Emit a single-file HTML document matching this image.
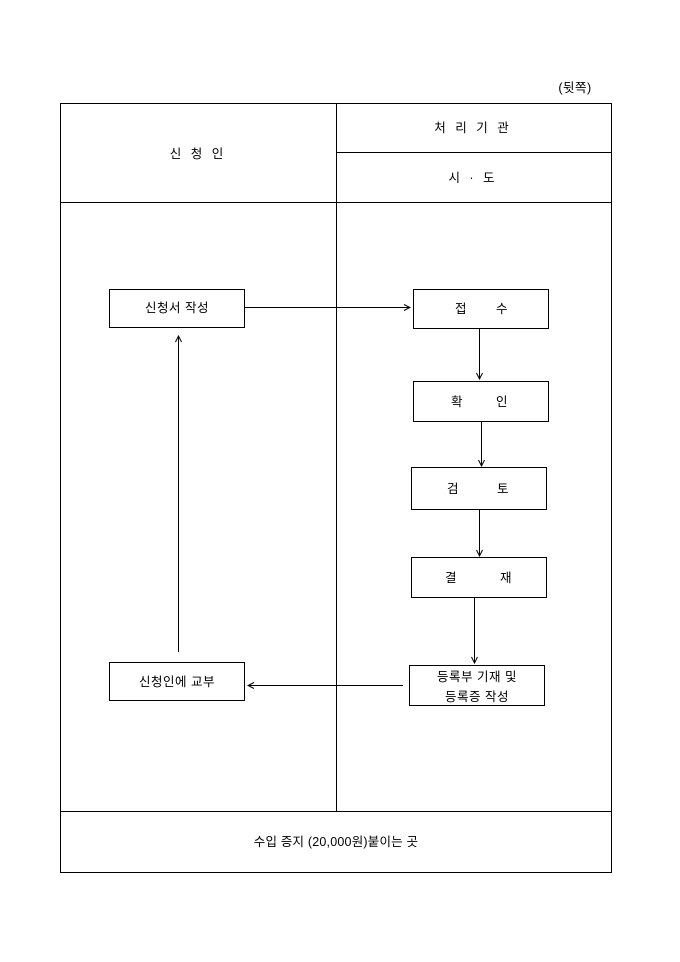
<!DOCTYPE html>
<html><head><meta charset="utf-8"><style>
html,body{margin:0;padding:0;background:#fff}
svg{display:block}
text{font-family:"Liberation Sans","Noto Sans CJK KR",sans-serif;font-size:12.5px;fill:#000;letter-spacing:0.5px}
.w{letter-spacing:3px}
</style></head><body>
<svg width="680" height="962" viewBox="0 0 680 962" xmlns="http://www.w3.org/2000/svg">
<defs><marker id="a" markerWidth="8" markerHeight="8" refX="7" refY="4" orient="auto" markerUnits="userSpaceOnUse"><path d="M1,1 L7,4 L1,7" fill="none" stroke="#000" stroke-width="1"/></marker></defs>
<g fill="none" stroke="#000" stroke-width="1">
<rect x="60.5" y="103.5" width="551" height="769"/>
<line x1="336.5" y1="103" x2="336.5" y2="811"/>
<line x1="336" y1="152.5" x2="611" y2="152.5"/>
<line x1="60" y1="202.5" x2="611" y2="202.5"/>
<line x1="60" y1="811.5" x2="611" y2="811.5"/>
<rect x="109.5" y="289.5" width="135" height="38"/>
<rect x="413.5" y="289.5" width="135" height="39"/>
<rect x="413.5" y="381.5" width="135" height="40"/>
<rect x="411.5" y="467.5" width="135" height="42"/>
<rect x="411.5" y="557.5" width="135" height="40"/>
<rect x="409.5" y="665.5" width="135" height="40"/>
<rect x="109.5" y="662.5" width="135" height="38"/>
<line x1="245" y1="307.5" x2="410" y2="307.5" marker-end="url(#a)"/>
<line x1="479.5" y1="329" x2="479.5" y2="379" marker-end="url(#a)"/>
<line x1="481.5" y1="422" x2="481.5" y2="466" marker-end="url(#a)"/>
<line x1="479.5" y1="510" x2="479.5" y2="556" marker-end="url(#a)"/>
<line x1="474.5" y1="598" x2="474.5" y2="663" marker-end="url(#a)"/>
<line x1="403" y1="685.5" x2="248" y2="685.5" marker-end="url(#a)"/>
<line x1="178.5" y1="652" x2="178.5" y2="336" marker-end="url(#a)"/>
</g>
<text x="575" y="92" text-anchor="middle">(뒷쪽)</text>
<text class="w" x="198" y="158" text-anchor="middle">신 청 인</text>
<text class="w" x="473" y="132" text-anchor="middle">처 리 기 관</text>
<text class="w" x="473" y="182" text-anchor="middle">시 · 도</text>
<text x="177" y="312" text-anchor="middle">신청서 작성</text>
<text x="461" y="313" text-anchor="middle">접</text><text x="502" y="313" text-anchor="middle">수</text>
<text x="457" y="406" text-anchor="middle">확</text><text x="502" y="406" text-anchor="middle">인</text>
<text x="453" y="493" text-anchor="middle">검</text><text x="503" y="493" text-anchor="middle">토</text>
<text x="451" y="582" text-anchor="middle">결</text><text x="506" y="582" text-anchor="middle">재</text>
<text x="477" y="681" text-anchor="middle">등록부 기재 및</text>
<text x="477" y="701" text-anchor="middle">등록증 작성</text>
<text x="177" y="686" text-anchor="middle">신청인에 교부</text>
<text x="336" y="846" text-anchor="middle" style="letter-spacing:0.2px">수입 증지 (20,000원)붙이는 곳</text>
</svg>
</body></html>
